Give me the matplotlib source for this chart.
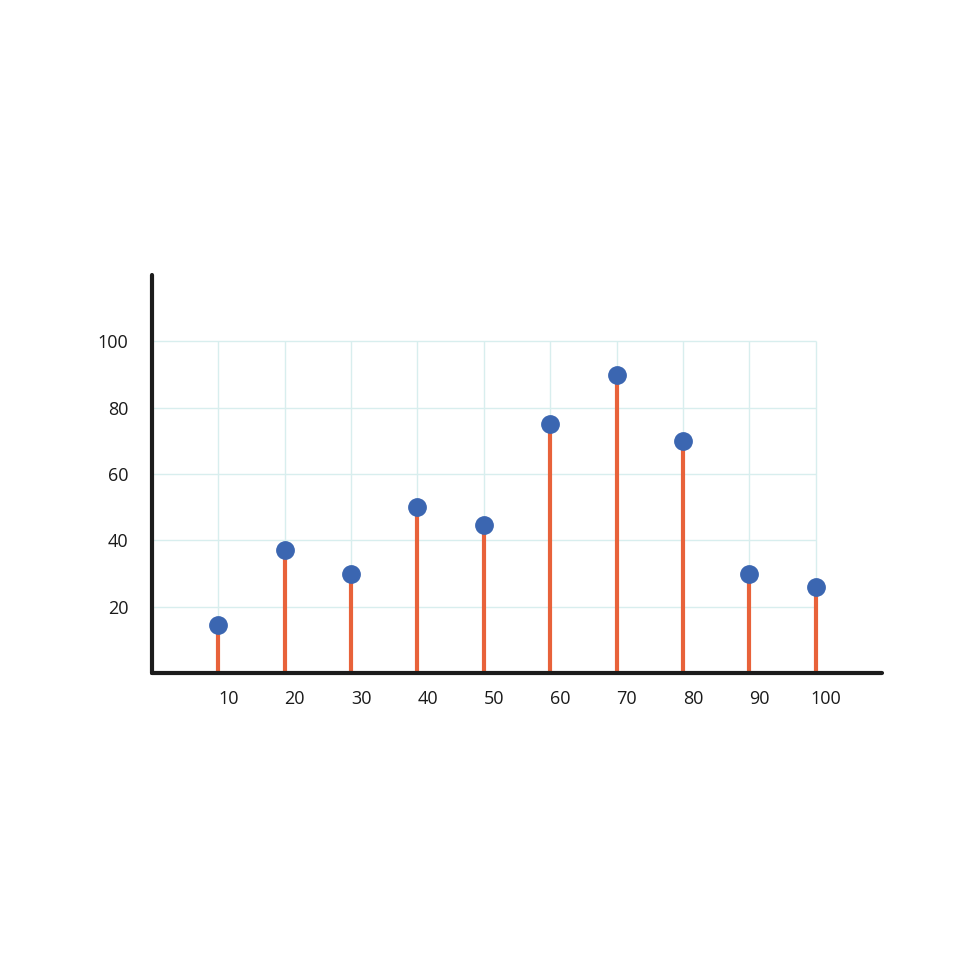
import matplotlib.pyplot as plt
from matplotlib.transforms import ScaledTranslation

# data
x_vals = [10, 20, 30, 40, 50, 60, 70, 80, 90, 100]
y_vals = [14.5, 37, 30, 50, 44.5, 75, 90, 70, 30, 26]
x_ticks = [10, 20, 30, 40, 50, 60, 70, 80, 90, 100]
y_ticks = [20, 40, 60, 80, 100]

STEM = '#e8623a'
DOT = '#3b66b1'
GRID = '#d8eeee'
AXIS = '#1c1c1c'

fig = plt.figure(figsize=(9.8, 9.8), dpi=100)
ax = fig.add_axes([152 / 980, 307 / 980, 730 / 980, 398 / 980])
ax.set_xlim(0, 110)
ax.set_ylim(0, 120)

# grid limited to the 0..100 box
ax.hlines(y_ticks, 0, 100, color=GRID, lw=1.0, zorder=1)
ax.vlines(x_ticks, 0, 100, color=GRID, lw=1.0, zorder=1)

ax.vlines(x_vals, 0, y_vals, color=STEM, lw=3.0, zorder=2)
ax.plot(x_vals, y_vals, 'o', color=DOT, ms=12.5, zorder=3)

for s in ['top', 'right']:
    ax.spines[s].set_visible(False)
for s in ['left', 'bottom']:
    ax.spines[s].set_linewidth(3.0)
    ax.spines[s].set_color(AXIS)
    ax.spines[s].set_capstyle('round')
    ax.spines[s].set_zorder(4)

ax.set_xticks(x_ticks)
ax.set_yticks(y_ticks)
ax.tick_params(length=0, labelsize=13, labelcolor='#1a1a1a')
ax.tick_params(axis='x', pad=12)
ax.tick_params(axis='y', pad=17)
for lab in ax.get_xticklabels():
    lab.set_fontfamily('Open Sans')
    lab.set_transform(lab.get_transform() + ScaledTranslation(10 / 100, 0, fig.dpi_scale_trans))
for lab in ax.get_yticklabels():
    lab.set_fontfamily('Open Sans')

fig.savefig('out.png', dpi=100, facecolor='white')
